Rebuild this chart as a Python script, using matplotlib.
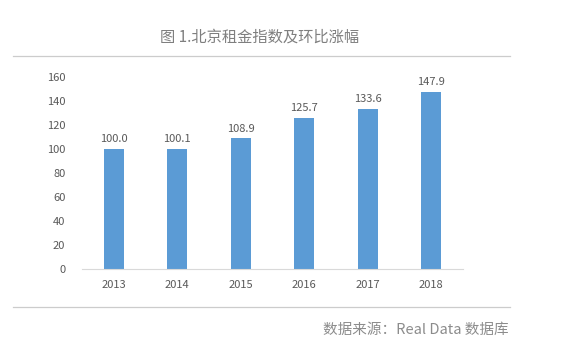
import matplotlib.pyplot as plt
from matplotlib.lines import Line2D

plt.rcParams['font.family'] = ['Noto Sans CJK SC', 'DejaVu Sans']

years = ['2013', '2014', '2015', '2016', '2017', '2018']
index_values = [100.0, 100.1, 108.9, 125.7, 133.6, 147.9]
y_ticks = [0, 20, 40, 60, 80, 100, 120, 140, 160]

bar_color = '#5B9BD5'
text_color = '#595959'

fig = plt.figure(figsize=(5.87, 3.51), dpi=100)
ax = fig.add_axes([0.1397, 0.2336, 0.649, 0.547])

x = range(len(years))
bars = ax.bar(x, index_values, width=0.32, color=bar_color)
for xi, v in zip(x, index_values):
    ax.text(xi, v + 4, f'{v:.1f}', ha='center', va='bottom', fontsize=8, color=text_color)

ax.set_xlim(-0.5, len(years) - 0.5)
ax.set_ylim(0, 160)
ax.set_yticks(y_ticks)
ax.set_xticks(list(x))
ax.set_xticklabels(years)
ax.tick_params(axis='both', length=0, labelsize=8, colors=text_color)
ax.tick_params(axis='y', pad=12)
ax.tick_params(axis='x', pad=8)
for side in ['top', 'right', 'left']:
    ax.spines[side].set_visible(False)
ax.spines['bottom'].set_color('#d9d9d9')

# title and source, with the thin rules above and below the chart
fig.text(0.443, 0.895, '图 1.北京租金指数及环比涨幅', ha='center', va='center',
         fontsize=11, color='#7f7f7f')
fig.add_artist(Line2D([0.022, 0.868], [0.840, 0.840], color='#cccccc', lw=0.9))
fig.add_artist(Line2D([0.022, 0.868], [0.125, 0.125], color='#cccccc', lw=0.9))
fig.text(0.866, 0.06, '数据来源：Real Data 数据库', ha='right', va='center',
         fontsize=10.5, color='#8c8c8c')

fig.savefig('out.png', dpi=100, facecolor='white')
